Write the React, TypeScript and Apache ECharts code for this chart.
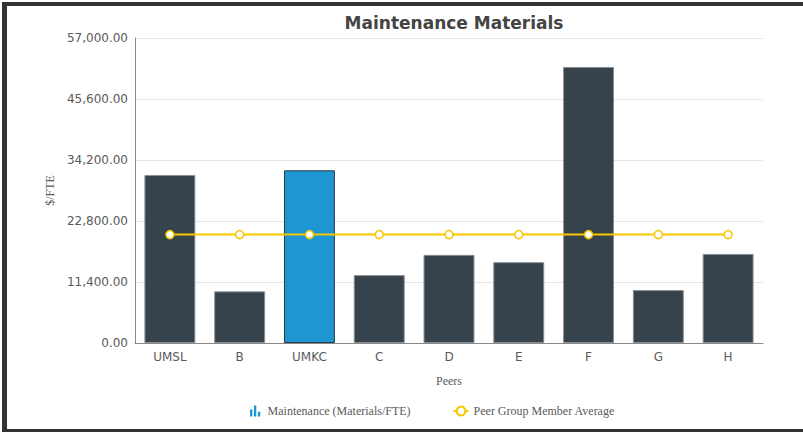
import React, { useEffect, useRef } from "react";
import * as echarts from "echarts";

const categories = ["UMSL", "B", "UMKC", "C", "D", "E", "F", "G", "H"];
const materialsPerFte = [31400, 9650, 32270, 12690, 16470, 15110, 51590, 9890, 16650];
const peerAverage = [20260, 20260, 20260, 20260, 20260, 20260, 20260, 20260, 20260];
const highlighted = "UMKC";
const yTicks = { min: 0, max: 57000, interval: 11400 };

const DARK = "#37434c";
const BLUE = "#1e96d2";
const GOLD = "#f5c800";
const TEXT = "#5a5a5a";

export default function App() {
  const ref = useRef<HTMLDivElement>(null);
  useEffect(() => {
    if (!ref.current) return;
    const chart = echarts.init(ref.current, undefined, { renderer: "svg" });
    const fmt = (v: number) =>
      v.toLocaleString("en-US", { minimumFractionDigits: 2, maximumFractionDigits: 2 });
    chart.setOption({
      animation: false,
      backgroundColor: "#ffffff",
      title: {
        text: "Maintenance Materials",
        left: 449,
        textAlign: "center",
        top: 9,
        textStyle: { fontFamily: "DejaVu Sans", fontWeight: "bold", fontSize: 17, color: "#444" },
      },
      grid: { left: 135, right: 40, top: 38, bottom: 89 },
      legend: {
        left: 245,
        top: 400,
        itemGap: 42,
        itemWidth: 15,
        itemHeight: 11,
        textStyle: { fontFamily: "Liberation Serif", fontSize: 12, color: TEXT },
        data: [
          {
            name: "Maintenance (Materials/FTE)",
            icon: "path://M0,5H3V14H0Z M5,0H8V14H5Z M10,8H13V14H10Z",
            itemStyle: { color: BLUE, borderWidth: 0 },
          },
          { name: "Peer Group Member Average" },
        ],
      },
      xAxis: {
        type: "category",
        data: categories,
        name: "Peers",
        nameLocation: "middle",
        nameGap: 32,
        nameTextStyle: { fontFamily: "Liberation Serif", fontSize: 12, color: TEXT },
        axisLine: { lineStyle: { color: "#888" } },
        axisTick: { show: false },
        axisLabel: { fontFamily: "DejaVu Sans", fontSize: 12, color: TEXT, margin: 8 },
      },
      yAxis: {
        type: "value",
        min: yTicks.min,
        max: yTicks.max,
        interval: yTicks.interval,
        name: "$/FTE",
        nameLocation: "middle",
        nameGap: 76,
        nameTextStyle: { fontFamily: "Liberation Serif", fontSize: 12, color: TEXT },
        axisLine: { show: true, lineStyle: { color: "#888" } },
        axisTick: { show: false },
        splitLine: { lineStyle: { color: "#e6e6e6" } },
        axisLabel: {
          fontFamily: "DejaVu Sans",
          fontSize: 12,
          color: TEXT,
          margin: 7,
          formatter: (v: number) => fmt(v),
        },
      },
      series: [
        {
          name: "Maintenance (Materials/FTE)",
          type: "bar",
          barWidth: "73%",
          data: materialsPerFte.map((v, i) => ({
            value: v,
            itemStyle:
              categories[i] === highlighted
                ? { color: BLUE, borderColor: "#2a3a44", borderWidth: 1 }
                : { color: DARK, borderColor: "#8a8f93", borderWidth: 1 },
          })),
          itemStyle: { color: DARK },
        },
        {
          name: "Peer Group Member Average",
          type: "line",
          data: peerAverage,
          symbol: "circle",
          symbolSize: 8,
          lineStyle: { color: GOLD, width: 2 },
          itemStyle: { color: "#ffffff", borderColor: GOLD, borderWidth: 1.5 },
          z: 5,
        },
      ],
      graphic: [
        { type: "rect", shape: { x: 2, y: 2, width: 5, height: 428 }, style: { fill: "#333" } },
        { type: "rect", shape: { x: 2, y: 2, width: 801, height: 4 }, style: { fill: "#333" } },
        { type: "rect", shape: { x: 2, y: 429, width: 801, height: 3 }, style: { fill: "#333" } },
      ],
    });
    return () => chart.dispose();
  }, []);
  return (
    <div style={{ position: "fixed", left: 0, top: 0, width: 803, height: 432, background: "#fff" }}>
      <div ref={ref} style={{ width: 803, height: 432 }} />
    </div>
  );
}
